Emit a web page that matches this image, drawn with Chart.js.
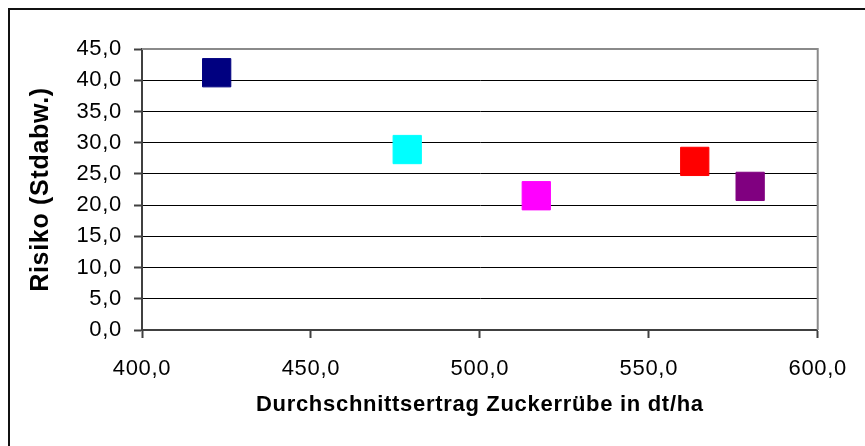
<!DOCTYPE html>
<html>
<head>
<meta charset="utf-8">
<script src="https://cdn.jsdelivr.net/npm/chart.js@4/dist/chart.umd.min.js"></script>
<style>
  html, body { margin: 0; padding: 0; background: #fff; }
  #wrap { position: relative; width: 865px; height: 446px; }
</style>
</head>
<body>
<div id="wrap"><canvas id="c"></canvas></div>
<script>
// Average sugar-beet yield (dt/ha) against risk (standard deviation)
const yields = [422.1, 478.5, 516.7, 563.6, 580.0];
const risks = [41.2, 28.9, 21.5, 27.0, 23.0];
const colors = ['#000080', '#00FFFF', '#FF00FF', '#FF0000', '#800080'];
const xTitle = 'Durchschnittsertrag Zuckerrübe in dt/ha';
const yTitle = 'Risiko (Stdabw.)';

const fmt = v => Number(v).toFixed(1).replace('.', ',');
const FONT = "'Liberation Sans', Arial, sans-serif";
const SPACING = '0.7px';

// frame around the whole figure plus the grey top/right edge of the plot area
const frame = {
  id: 'frame',
  beforeUpdate(chart) { chart.ctx.letterSpacing = SPACING; },
  beforeDraw(chart) {
    const ctx = chart.ctx;
    ctx.letterSpacing = SPACING;
    ctx.save();
    ctx.strokeStyle = '#111';
    ctx.lineWidth = 2;
    ctx.beginPath();
    ctx.moveTo(9, 446); ctx.lineTo(9, 9); ctx.lineTo(865, 9);
    ctx.stroke();
    ctx.restore();
  },
  afterDatasetsDraw(chart) {
    const {ctx, chartArea: a} = chart;
    ctx.save();
    ctx.strokeStyle = '#8a8a8a';
    ctx.lineWidth = 2;
    ctx.beginPath();
    ctx.moveTo(a.left, a.top); ctx.lineTo(a.right, a.top); ctx.lineTo(a.right, a.bottom);
    ctx.stroke();
    ctx.restore();
  }
};

new Chart(document.getElementById('c'), {
  type: 'scatter',
  data: {
    datasets: [{
      data: yields.map((x, i) => ({x, y: risks[i]})),
      pointStyle: 'rect',
      pointRadius: 20,
      pointHoverRadius: 20,
      pointBackgroundColor: colors,
      pointBorderColor: colors,
      pointBorderWidth: 1
    }]
  },
  options: {
    responsive: true,
    maintainAspectRatio: false,
    animation: false,
    layout: { padding: { top: 49, right: 46, left: 0, bottom: 0 } },
    plugins: { legend: { display: false }, tooltip: { enabled: false } },
    scales: {
      x: {
        type: 'linear',
        min: 400, max: 600,
        afterFit(s) { s.height = 116; },
        ticks: { stepSize: 50, callback: fmt, color: '#000', padding: 18,
                 font: { family: FONT, size: 22 }, maxRotation: 0 },
        grid: { drawOnChartArea: false, drawTicks: true, tickLength: 8, tickColor: '#404040', tickWidth: 2 },
        border: { color: '#404040', width: 2 },
        title: { display: true, text: xTitle, color: '#000',
                 font: { family: FONT, size: 22, weight: 'bold' },
                 padding: { top: 0, bottom: 28 } }
      },
      y: {
        min: 0, max: 45,
        afterFit(s) { s.width = 142; },
        ticks: { stepSize: 5, callback: fmt, color: '#000', padding: 12,
                 font: { family: FONT, size: 22 } },
        grid: {
          color: c => c.tick && c.tick.value === 45 ? '#8a8a8a' : '#000',
          lineWidth: 1,
          tickLength: 8, tickColor: '#404040', tickWidth: 2
        },
        border: { color: '#404040', width: 2 },
        title: { display: true, text: yTitle, color: '#000',
                 font: { family: FONT, size: 25, weight: 'bold' },
                 padding: { top: 26, bottom: 0 } }
      }
    }
  },
  plugins: [frame]
});
</script>
</body>
</html>
